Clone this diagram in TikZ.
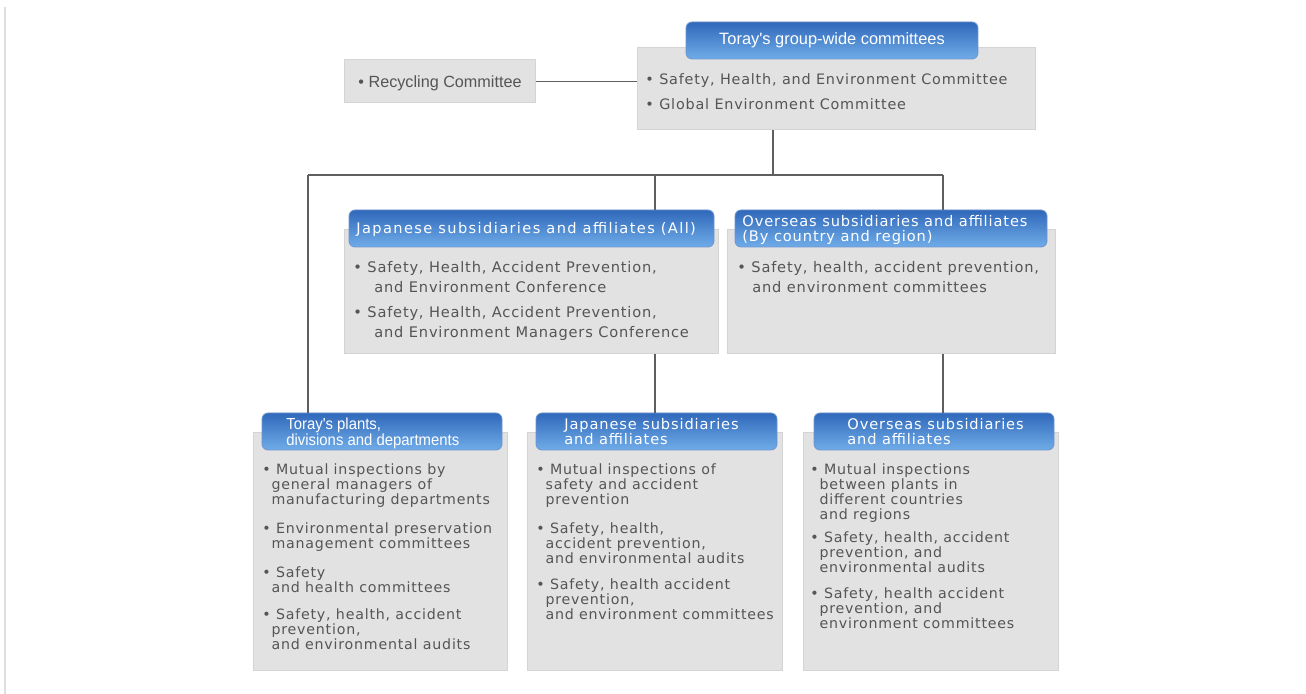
\documentclass[tikz,border=0pt]{standalone}
\usepackage{fontspec}
\setmainfont[LetterSpace=5.5]{DejaVu Sans}
\newfontfamily\hdrwide[LetterSpace=9.5]{DejaVu Sans}
\newfontfamily\hdrmid[LetterSpace=6]{DejaVu Sans}
\newfontfamily\arialf{Liberation Sans}
\usetikzlibrary{fit}
\definecolor{boxgray}{RGB}{226,226,226}
\definecolor{boxedge}{RGB}{212,212,212}
\definecolor{hdrtop}{RGB}{48,104,186}
\definecolor{hdrbot}{RGB}{112,172,232}
\definecolor{txtgray}{RGB}{85,85,85}
\definecolor{linegray}{RGB}{95,95,95}
\tikzset{
  graybox/.style={fill=boxgray, draw=boxedge, line width=0.5pt, inner sep=0pt},
  hdrbox/.style={top color=hdrtop, bottom color=hdrbot, draw=hdrtop!70!white, line width=0.4pt, rounded corners=3pt, inner sep=0pt},
  hdrtxt/.style={text=white, inner sep=0pt, align=left, font=\hdrmid\fontsize{7.3}{7.6}\selectfont},
  bodytxt/.style={text=txtgray, inner sep=0pt, align=left, anchor=north west, font=\fontsize{7.1}{7.5}\selectfont},
  toptxt/.style={text=txtgray, inner sep=0pt, align=left, anchor=north west, font=\fontsize{7.3}{10}\selectfont},
  conn/.style={draw=linegray, line width=0.6pt}
}
\newcommand{\ind}{\hspace*{4.6pt}}
\begin{document}
\begin{tikzpicture}[x=0.5pt,y=-0.5pt]
\useasboundingbox (0,0) rectangle (1306,694);
\fill[white] (0,0) rectangle (1306,694);
\draw[draw=gray!25, line width=1pt] (5,7) -- (5,694);

% gray boxes
\node[graybox, fit={(637,48) (1035,130)}] (top) {};
\node[graybox, fit={(344,60) (535,103)}] (recy) {};
\node[graybox, fit={(344,230) (718,354)}] (jall) {};
\node[graybox, fit={(727,230) (1055,354)}] (oall) {};
\node[graybox, fit={(253,433) (507,670)}] (plants) {};
\node[graybox, fit={(527,433) (782,670)}] (jsub) {};
\node[graybox, fit={(803,433) (1058,670)}] (osub) {};

% headers
\node[hdrbox, fit={(686,22) (978,59)}] (toph) {};
\node[hdrbox, fit={(349,210) (714,247)}] (jallh) {};
\node[hdrbox, fit={(735,210) (1047,247)}] (oallh) {};
\node[hdrbox, fit={(262,413) (502,450)}] (plantsh) {};
\node[hdrbox, fit={(536,413) (777,450)}] (jsubh) {};
\node[hdrbox, fit={(814,413) (1054,450)}] (osubh) {};

% header texts
\node[hdrtxt, font=\arialf\fontsize{8.2}{8.5}\selectfont] (tophT) at (toph.center) {Toray's group-wide committees};
\node[hdrtxt, anchor=west, font=\hdrwide\fontsize{7.3}{7.6}\selectfont] (jallhT) at (356,229) {Japanese subsidiaries and affiliates (All)};
\node[hdrtxt, anchor=north west] (oallhT) at (742,215) {Overseas subsidiaries and affiliates\\(By country and region)};
\node[hdrtxt, anchor=north west, font=\arialf\fontsize{8}{7.6}\selectfont] (plantshT) at (286,418) {\scalebox{0.93}[1]{Toray's plants,}\\\scalebox{0.93}[1]{divisions and departments}};
\node[hdrtxt, anchor=north west] (jsubhT) at (564,418) {Japanese subsidiaries\\and affiliates};
\node[hdrtxt, anchor=north west] (osubhT) at (847,418) {Overseas subsidiaries\\and affiliates};

% body texts
\node[toptxt, font=\arialf\fontsize{8.1}{8.5}\selectfont] (recyT) at (358,75) {• Recycling Committee};
\node[toptxt, font=\fontsize{7.2}{12.5}\selectfont] (topT) at (645,73) {• Safety, Health, and Environment Committee\\• Global Environment Committee};
\node[toptxt] (jallT1) at (353,261) {• Safety, Health, Accident Prevention,\\\hspace*{10.5pt}and Environment Conference};
\node[toptxt] (jallT2) at (353,306) {• Safety, Health, Accident Prevention,\\\hspace*{10.5pt}and Environment Managers Conference};
\node[toptxt] (oallT) at (737,261) {• Safety, health, accident prevention,\\\hspace*{7.5pt}and environment committees};

\node[bodytxt] (pT1) at (262,463) {• Mutual inspections by\\\ind general managers of\\\ind manufacturing departments};
\node[bodytxt] (pT2) at (262,522) {• Environmental preservation\\\ind management committees};
\node[bodytxt] (pT3) at (262,566) {• Safety\\\ind and health committees};
\node[bodytxt] (pT4) at (262,608) {• Safety, health, accident\\\ind prevention,\\\ind and environmental audits};

\node[bodytxt] (jT1) at (536,463) {• Mutual inspections of\\\ind safety and accident\\\ind prevention};
\node[bodytxt] (jT2) at (536,522) {• Safety, health,\\\ind accident prevention,\\\ind and environmental audits};
\node[bodytxt] (jT3) at (536,578) {• Safety, health accident\\\ind prevention,\\\ind and environment committees};

\node[bodytxt] (oT1) at (810,463) {• Mutual inspections\\\ind between plants in\\\ind different countries\\\ind and regions};
\node[bodytxt] (oT2) at (810,531) {• Safety, health, accident\\\ind prevention, and\\\ind environmental audits};
\node[bodytxt] (oT3) at (810,587) {• Safety, health accident\\\ind prevention, and\\\ind environment committees};

% connectors
\coordinate (bus) at (773,175);
\coordinate (busL) at (308,175);
\coordinate (busM) at (655,175);
\coordinate (busR) at (943,175);
\draw[conn] (recy.east) -- (recy.east -| top.west);
\draw[conn] (top.south -| bus) -- (bus);
\draw[conn] (busL) -- (busR);
\draw[conn] (busL) -- (busL |- plantsh.north);
\draw[conn] (busM) -- (busM |- jallh.north);
\draw[conn] (busR) -- (busR |- oallh.north);
\draw[conn] (jall.south -| busM) -- (busM |- jsubh.north);
\draw[conn] (oall.south -| busR) -- (busR |- osubh.north);
\end{tikzpicture}
\end{document}
